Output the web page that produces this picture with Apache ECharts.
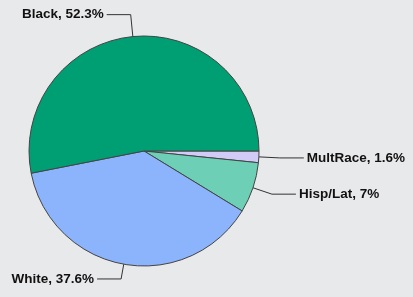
<!DOCTYPE html>
<html>
<head>
<meta charset="utf-8">
<script src="https://cdn.jsdelivr.net/npm/echarts@6/dist/echarts.min.js"></script>
<style>
html, body { margin: 0; padding: 0; background: #e8e9eb; }
#main { width: 413px; height: 297px; }
</style>
</head>
<body>
<div id="main"></div>
<script>
// 扇区按顺时针从3点钟方向开始
var names = ['MultRace', 'Hisp/Lat', 'White', 'Black'];
var values = [1.6, 7, 37.6, 52.3];
var colors = ['#d3cbf7', '#6ccfb6', '#8cb4fc', '#009e73'];
var lineLens = [21, 20, 15, 22];

var myChart = echarts.init(document.getElementById('main'));

var data = [];
for (var i = 0; i < names.length; i++) {
    data.push({
        name: names[i],
        value: values[i],
        itemStyle: { color: colors[i] },
        labelLine: { length: lineLens[i] }
    });
}

var option = {
    backgroundColor: '#e8e9eb',
    animation: false,
    series: [{
        type: 'pie',
        center: [144, 151],
        radius: 115,
        startAngle: 0,
        clockwise: true,
        avoidLabelOverlap: false,
        data: data,
        itemStyle: {
            borderColor: '#444',
            borderWidth: 1
        },
        label: {
            show: true,
            position: 'outside',
            formatter: '{b}, {c}%',
            color: '#111',
            fontFamily: 'Liberation Sans, Arial, sans-serif',
            fontWeight: 'bold',
            fontSize: 13.5,
            distanceToLabelLine: 3
        },
        labelLine: {
            show: true,
            length: 19,
            length2: 24,
            lineStyle: { color: '#333', width: 1 }
        }
    }]
};

myChart.setOption(option);
</script>
</body>
</html>
